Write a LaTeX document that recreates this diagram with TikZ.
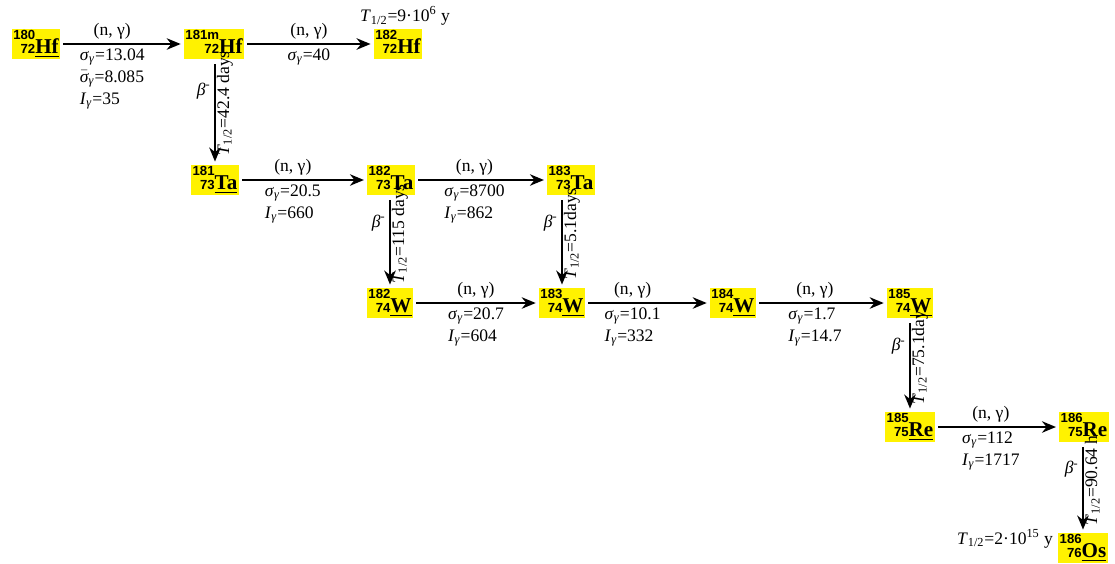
\documentclass[tikz,border=0pt]{standalone}
\usepackage{fontspec}
\setmainfont{Liberation Serif}
\setsansfont{Liberation Sans}
\usepackage{tikz}
\usetikzlibrary{arrows.meta,positioning}

\newcommand{\nuc}[3]{{\sffamily\bfseries\fontsize{7.5}{8}\selectfont\begin{tabular}[b]{@{}r@{}}#1\\#2\end{tabular}}{\bfseries\fontsize{12}{14}\selectfont#3}}
\newcommand{\sg}{\textit{σ}\textsubscript{\textit{γ}}}
\newcommand{\sgbar}{$\bar{\hbox{\itshape σ}}$\textsubscript{\textit{γ}}}
\newcommand{\Ig}{\textit{I}\textsubscript{\textit{γ}}}
\newcommand{\thalf}{\textit{T}\textsubscript{1/2}}
\newcommand{\betam}{\textit{β}\textsuperscript{-}}

\begin{document}
\begin{tikzpicture}[
  nuc/.style={fill=yellow, inner xsep=1pt, inner ysep=0.3pt},
  lbl/.style={font=\fontsize{10}{12.5}\selectfont, align=left, inner sep=2pt},
  arr/.style={-{Stealth[length=2.8mm, width=2.3mm]}, line width=1.1pt, shorten <=1.5pt, shorten >=1.5pt},
  vert/.style={arr, shorten <=3pt, shorten >=2pt}]
\useasboundingbox (0,0) rectangle (22.3,-11.28);
% nuclides
\node[nuc] (hf180) at (0.72,-0.88) {\nuc{180}{72}{\underline{Hf}}};
\node[nuc] (hf181) at (4.28,-0.88) {\nuc{181m}{72}{Hf}};
\node[nuc] (hf182) at (7.96,-0.88) {\nuc{182}{72}{Hf}};
\node[nuc] (ta181) at (4.30,-3.60) {\nuc{181}{73}{\underline{Ta}}};
\node[nuc] (ta182) at (7.82,-3.60) {\nuc{182}{73}{Ta}};
\node[nuc] (ta183) at (11.42,-3.60) {\nuc{183}{73}{Ta}};
\node[nuc] (w182) at (7.80,-6.06) {\nuc{182}{74}{\underline{W}}};
\node[nuc] (w183) at (11.24,-6.06) {\nuc{183}{74}{\underline{W}}};
\node[nuc] (w184) at (14.66,-6.06) {\nuc{184}{74}{\underline{W}}};
\node[nuc] (w185) at (18.20,-6.06) {\nuc{185}{74}{\underline{W}}};
\node[nuc] (re185) at (18.20,-8.54) {\nuc{185}{75}{\underline{Re}}};
\node[nuc] (re186) at (21.68,-8.54) {\nuc{186}{75}{Re}};
\node[nuc] (os186) at (21.66,-10.96) {\nuc{186}{76}{\underline{Os}}};
\node[lbl] (thf) at (8.10,-0.32) {\thalf=9·10\textsuperscript{6} y};
\node[lbl] (tos) at (20.10,-10.78) {\thalf=2·10\textsuperscript{15} y};
% neutron capture
\foreach \a/\b/\p/\txt in {
  hf180/hf181/0.42/{\sg=13.04\\\sgbar=8.085\\\Ig=35},
  hf181/hf182/0.5/{\sg=40},
  ta181/ta182/0.42/{\sg=20.5\\\Ig=660},
  ta182/ta183/0.45/{\sg=8700\\\Ig=862},
  w182/w183/0.5/{\sg=20.7\\\Ig=604},
  w183/w184/0.38/{\sg=10.1\\\Ig=332},
  w184/w185/0.45/{\sg=1.7\\\Ig=14.7},
  re185/re186/0.45/{\sg=112\\\Ig=1717}}
  \draw[arr] (\a) -- node[pos=\p, above, lbl] {(n, γ)} node[pos=\p, below, lbl] {\txt} (\b);
% beta decay
\foreach \a/\b/\h in {hf181/ta181/{42.4 days}, ta182/w182/{115 days}, ta183/w183/{5.1days}, w185/re185/{75.1day}, re186/os186/{90.64 h}}
  \draw[vert] (\a.south -| \b) -- node[pos=0.3, left, lbl] {\betam} node[pos=0.42, rotate=90, anchor=north, lbl, inner sep=0.5pt] {\thalf=\h} (\b);
\end{tikzpicture}
\end{document}
